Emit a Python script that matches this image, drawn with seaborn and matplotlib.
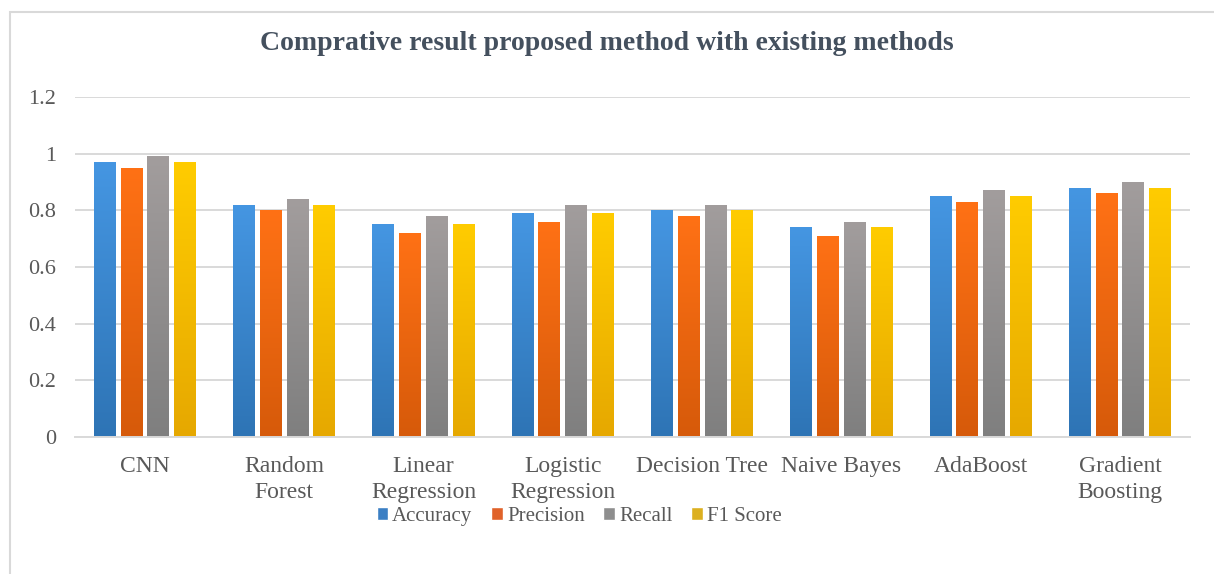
import numpy as np
import pandas as pd
import matplotlib.pyplot as plt
import seaborn as sns
from matplotlib.patches import Patch, Rectangle
from matplotlib.colors import LinearSegmentedColormap

methods = ["CNN", "Random\nForest", "Linear\nRegression", "Logistic\nRegression",
           "Decision Tree", "Naive Bayes", "AdaBoost", "Gradient\nBoosting"]
metrics = ["Accuracy", "Precision", "Recall", "F1 Score"]

accuracy = [0.97, 0.82, 0.75, 0.79, 0.80, 0.74, 0.85, 0.88]
precision = [0.95, 0.80, 0.72, 0.76, 0.78, 0.71, 0.83, 0.86]
recall = [0.99, 0.84, 0.78, 0.82, 0.82, 0.76, 0.87, 0.90]
f1_score = [0.97, 0.82, 0.75, 0.79, 0.80, 0.74, 0.85, 0.88]

colors = ["#3a87d6", "#f26b14", "#949090", "#f7be00"]
top_colors = ["#4596e2", "#ff7115", "#a29d9d", "#ffcc00"]
bottom_colors = ["#2e74b5", "#d65a0a", "#7f7f7f", "#e6a800"]
legend_colors = ["#3b7fc4", "#e0622a", "#8e8e8e", "#dcb020"]
yticks = [0, 0.2, 0.4, 0.6, 0.8, 1.0, 1.2]
ytick_labels = ["0", "0.2", "0.4", "0.6", "0.8", "1", "1.2"]

df = pd.DataFrame({
    "Method": methods * 4,
    "Metric": np.repeat(metrics, len(methods)),
    "Score": accuracy + precision + recall + f1_score,
})

sns.set_style("white")
plt.rcParams["font.family"] = ["Liberation Serif", "DejaVu Serif"]
text_col = "#595959"

fig = plt.figure(figsize=(12.14, 5.74), dpi=100)
ax = fig.add_axes([0.062, 0.239, 0.918, 0.592])

sns.barplot(data=df, x="Method", y="Score", hue="Metric", palette=colors,
            width=0.77, gap=0.18, ax=ax, legend=False, saturation=1)

# vertical gradient fill like the office-style bars
grad = np.linspace(1, 0, 256).reshape(-1, 1)
for i, bar in enumerate(ax.patches):
    k = i // len(methods)
    cmap = LinearSegmentedColormap.from_list("g", [bottom_colors[k], top_colors[k]])
    x0, w, h = bar.get_x(), bar.get_width(), bar.get_height()
    im = ax.imshow(grad, cmap=cmap, aspect="auto", extent=(x0, x0 + w, 0, h),
                   zorder=2, interpolation="bilinear")
    im.set_clip_path(bar)
    bar.set_facecolor("none")
    bar.set_edgecolor("none")

ax.set_ylim(0, 1.2)
ax.set_xlim(-0.5, len(methods) - 0.5)
ax.set_yticks(yticks)
ax.set_yticklabels(ytick_labels)
ax.yaxis.grid(True, color="#d9d9d9", linewidth=1.4)
ax.set_axisbelow(True)
for s in ["top", "right", "left"]:
    ax.spines[s].set_visible(False)
ax.spines["bottom"].set_color("#d9d9d9")
ax.spines["bottom"].set_linewidth(1.4)
ax.tick_params(axis="y", length=0, labelsize=16, labelcolor=text_col, pad=14)
ax.tick_params(axis="x", length=0, labelsize=17, labelcolor=text_col, pad=14)
for t in ax.get_xticklabels():
    t.set_linespacing(1.32)
ax.set_xlabel("")
ax.set_ylabel("")

fig.text(0.5, 0.925, "Comprative result proposed method with existing methods",
         ha="center", va="center", fontsize=20, fontweight="bold", color="#44505e")

handles = [Patch(facecolor=c, label=m) for c, m in zip(legend_colors, metrics)]
fig.legend(handles=handles, loc="center", bbox_to_anchor=(0.477, 0.1), ncol=4,
           frameon=False, fontsize=15, handlelength=0.55, handleheight=0.55,
           handletextpad=0.2, columnspacing=0.9, labelcolor=text_col)

# chart border
fig.patches.append(Rectangle((0.008, -0.1), 1.1, 1.079, transform=fig.transFigure,
                             fill=False, edgecolor="#d9d9d9", linewidth=1.5))

fig.savefig("out.png", dpi=100)
